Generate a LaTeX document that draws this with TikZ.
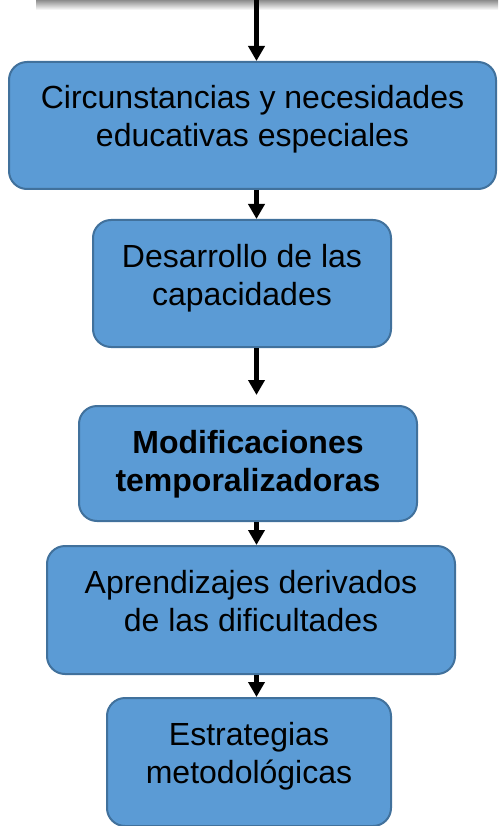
\documentclass[tikz,border=0pt]{standalone}
\usepackage{fontspec}
\setmainfont{Liberation Sans}
\usetikzlibrary{arrows.meta}

\definecolor{cajaazul}{HTML}{5B9BD5}
\definecolor{bordeazul}{HTML}{41719C}

\tikzset{
	caja/.style={draw=bordeazul, fill=cajaazul, line width=2pt, rounded corners=18pt,
		anchor=north, align=center, inner xsep=0pt, inner ysep=0pt,
		text height=85pt, font=\fontsize{32}{38}\selectfont},
	flecha/.style={line width=4.5pt, -{Triangle[width=16pt,length=15pt]}}
}

\begin{document}
\begin{tikzpicture}[x=1pt, y=-1pt]
	\useasboundingbox (0,0) rectangle (498,826);

	% sombra de la caja anterior
	\shade
		[top color=black!45, bottom color=white] (36,0) rectangle (498,10);

	\coordinate (eje) at (256.5,0);

	\node (circunstancias) [caja, minimum width=487pt, text depth=42pt] at (252.5,61)
		{Circunstancias y necesidades\\educativas especiales};

	\node (desarrollo) [caja, minimum width=298pt, text depth=42pt] at (242,219)
		{Desarrollo de las\\capacidades};

	\node (modificaciones) [caja, minimum width=338pt, text depth=30pt] at (248,405)
		{\bfseries Modificaciones\\\bfseries temporalizadoras};

	\node (aprendizajes) [caja, minimum width=408pt, text depth=43pt] at (251,545)
		{Aprendizajes derivados\\de las dificultades};

	\node (estrategias) [caja, minimum width=284pt, text depth=43pt] at (249,697)
		{Estrategias\\metodológicas};

	\draw
		[flecha] (eje) -- (circunstancias.north -| eje);

	\draw
		[flecha] (circunstancias.south -| eje) -- (desarrollo.north -| eje);

	\draw
		[flecha, shorten >=10pt] (desarrollo.south -| eje) -- (modificaciones.north -| eje);

	\draw
		[flecha] (modificaciones.south -| eje) -- (aprendizajes.north -| eje);

	\draw
		[flecha] (aprendizajes.south -| eje) -- (estrategias.north -| eje);

\end{tikzpicture}
\end{document}
